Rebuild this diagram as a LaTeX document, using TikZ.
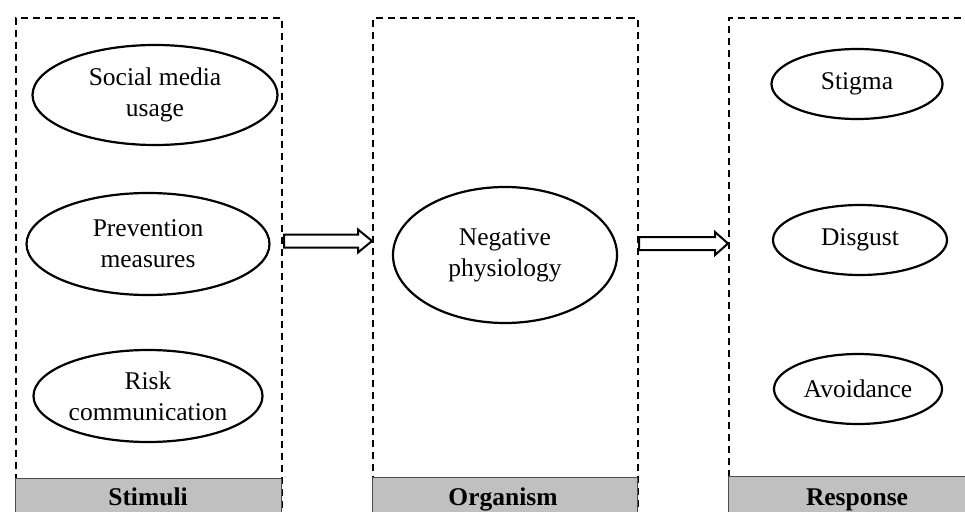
\documentclass[tikz,border=0pt]{standalone}
\usepackage{fontspec}
\setmainfont{Liberation Serif}
\usetikzlibrary{shapes.geometric,calc}
\definecolor{bargray}{HTML}{C0C0C0}
\begin{document}
\begin{tikzpicture}[x=1pt,y=-1pt,
  dbox/.style={draw, dash pattern=on 7pt off 5pt, line width=2.2pt, inner sep=0pt, anchor=north west},
  bar/.style={fill=bargray, draw=black!70, line width=1pt, inner sep=0pt, anchor=north west},
  oval/.style={ellipse, draw, line width=2.2pt, inner sep=0pt, align=center, font=\fontsize{25.5}{31}\selectfont},
  lab/.style={font=\bfseries\fontsize{25.5}{30}\selectfont, anchor=base, inner sep=0pt},
  hollow/.style={draw, line width=2pt, fill=white, line join=miter}
]
\useasboundingbox (0,0) rectangle (965,511);

% dashed boxes
\node[dbox, minimum width=266pt, minimum height=500pt] (stimbox) at (15,17) {};
\node[dbox, minimum width=265pt, minimum height=500pt] (orgbox) at (372,17) {};
\node[dbox, minimum width=262pt, minimum height=500pt] (resbox) at (728,17) {};

% gray bars
\node[bar, minimum width=266pt, minimum height=40pt] (stimbar) at (15,478) {};
\node[bar, minimum width=265pt, minimum height=40pt] (orgbar) at (372,477) {};
\node[bar, minimum width=262pt, minimum height=40pt] (resbar) at (728,476) {};

\node[lab] (stimlab) at (148,505) {Stimuli};
\node[lab] (orglab) at (503,505) {Organism};
\node[lab] (reslab) at (857,505) {Response};

% ellipses
\node[oval, minimum width=245pt, minimum height=100pt] (social) at (155,95) {Social media\\usage};
\node[oval, minimum width=243pt, minimum height=102pt] (prev) at (148,244) {Prevention\\measures};
\node[oval, minimum width=229pt, minimum height=92pt] (risk) at (148,396) {Risk\\communication};
\node[oval, minimum width=224pt, minimum height=136pt] (neg) at (505,255) {Negative\\physiology};
\node[oval, minimum width=171pt, minimum height=70pt] (stigma) at (857,84) {Stigma};
\node[oval, minimum width=174pt, minimum height=70pt] (disgust) at (860,240) {Disgust};
\node[oval, minimum width=168pt, minimum height=70pt] (avoid) at (858,389) {Avoidance};

% hollow arrows
\coordinate (a1s) at ($(stimbox.north east)+(1,224)$);
\coordinate (a1e) at ($(orgbox.north west)+(0,224)$);
\draw[hollow] ($(a1s)+(0,-6.5)$) -- ($(a1e)+(-14,-6.5)$) -- ($(a1e)+(-14,-11.5)$) -- (a1e)
  -- ($(a1e)+(-14,11.5)$) -- ($(a1e)+(-14,6.5)$) -- ($(a1s)+(0,6.5)$) -- cycle;

\coordinate (a2s) at ($(orgbox.north east)+(0,226.5)$);
\coordinate (a2e) at ($(resbox.north west)+(0,226.5)$);
\draw[hollow] ($(a2s)+(0,-6.5)$) -- ($(a2e)+(-13,-6.5)$) -- ($(a2e)+(-13,-11.5)$) -- (a2e)
  -- ($(a2e)+(-13,11.5)$) -- ($(a2e)+(-13,6.5)$) -- ($(a2s)+(0,6.5)$) -- cycle;
\end{tikzpicture}
\end{document}
